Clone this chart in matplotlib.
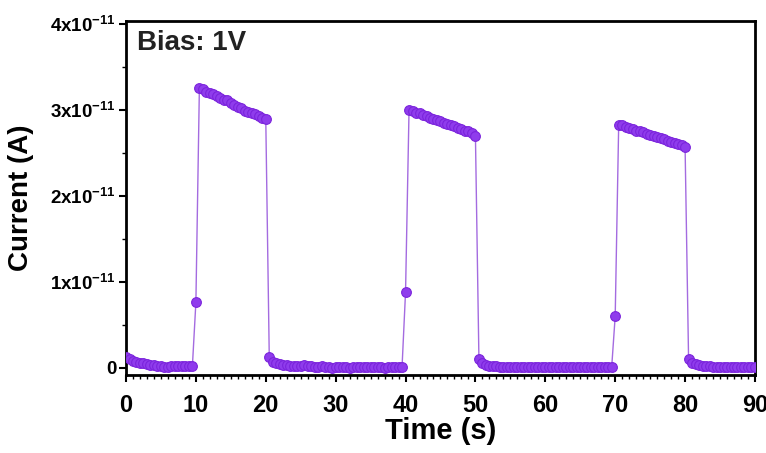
import numpy as np
import matplotlib
matplotlib.use("Agg")
import matplotlib.pyplot as plt
from matplotlib.ticker import MultipleLocator, FixedLocator

plt.rcParams['font.family'] = ['Liberation Sans', 'DejaVu Sans']
plt.rcParams['mathtext.fontset'] = 'custom'
plt.rcParams['mathtext.rm'] = 'Liberation Sans:bold'
plt.rcParams['mathtext.bf'] = 'Liberation Sans:bold'
plt.rcParams['mathtext.it'] = 'Liberation Sans:bold'

# ---- data (current in units of 1e-11 A), sampled every 0.5 s ----
time_step = 0.5
off0 = [0.12, 0.10, 0.08, 0.07, 0.06, 0.05, 0.04, 0.03, 0.03, 0.02,
        0.02, 0.01, 0.01, 0.02, 0.02, 0.02, 0.02, 0.02, 0.02, 0.02]
rise1 = [0.76]
on1 = [3.26, 3.24, 3.21, 3.20, 3.18, 3.16, 3.14, 3.12, 3.11, 3.08,
       3.06, 3.04, 3.02, 2.99, 2.98, 2.96, 2.95, 2.93, 2.91, 2.89]
off1 = [0.12, 0.07, 0.05, 0.04, 0.03, 0.03, 0.02, 0.02, 0.02, 0.02,
        0.03, 0.02, 0.02, 0.01, 0.01, 0.02, 0.01, 0.01, 0.00, 0.01,
        0.01, 0.01, 0.01, 0.00, 0.01, 0.01, 0.01, 0.01, 0.01, 0.01,
        0.01, 0.01, 0.01, 0.00, 0.01, 0.01, 0.01, 0.01, 0.01]
rise2 = [0.88]
on2 = [3.00, 2.99, 2.97, 2.96, 2.94, 2.93, 2.91, 2.90, 2.88, 2.87,
       2.85, 2.84, 2.82, 2.81, 2.79, 2.78, 2.76, 2.75, 2.73, 2.70]
off2 = [0.10, 0.05, 0.03, 0.02, 0.02, 0.02, 0.01, 0.01, 0.01, 0.01,
        0.01, 0.01, 0.01, 0.01, 0.01, 0.01, 0.01, 0.01, 0.01, 0.01,
        0.01, 0.01, 0.01, 0.01, 0.01, 0.01, 0.01, 0.01, 0.01, 0.01,
        0.01, 0.01, 0.01, 0.01, 0.01, 0.01, 0.01, 0.01, 0.01]
rise3 = [0.60]
on3 = [2.83, 2.82, 2.80, 2.79, 2.78, 2.76, 2.75, 2.74, 2.72, 2.71,
       2.70, 2.68, 2.67, 2.66, 2.64, 2.63, 2.62, 2.60, 2.59, 2.57]
off3 = [0.10, 0.06, 0.04, 0.03, 0.02, 0.02, 0.02, 0.01, 0.01, 0.01,
        0.01, 0.01, 0.01, 0.01, 0.01, 0.01, 0.01, 0.01, 0.01, 0.01]

current_e11 = np.array(off0 + rise1 + on1 + off1 + rise2 + on2 + off2 + rise3 + on3 + off3)
current = current_e11 * 1e-11
time = np.arange(len(current)) * time_step

x_ticks = [0, 10, 20, 30, 40, 50, 60, 70, 80, 90]
y_ticks = [0, 1e-11, 2e-11, 3e-11, 4e-11]
y_tick_labels = ['0', r'1x10$^{-11}$', r'2x10$^{-11}$', r'3x10$^{-11}$', r'4x10$^{-11}$']

fig = plt.figure(figsize=(7.66, 4.53), dpi=100)
ax = fig.add_axes([0.1645, 0.1722, 0.8211, 0.7814])

ax.plot(time, current, '-', color='#a46be0', lw=1.0, zorder=2)
ax.plot(time, current, 'o', ls='none', markersize=7, markerfacecolor='#8f3cec',
        markeredgecolor='#7b24dc', markeredgewidth=0.8, zorder=3)

ax.set_xlim(0, 90)
ax.set_ylim(-0.085e-11, 4.035e-11)
ax.xaxis.set_major_locator(FixedLocator(x_ticks))
ax.xaxis.set_minor_locator(MultipleLocator(1))
ax.yaxis.set_major_locator(FixedLocator(y_ticks))
ax.yaxis.set_minor_locator(MultipleLocator(0.5e-11))
ax.set_yticklabels(y_tick_labels)
ax.set_xticklabels([str(v) for v in x_ticks])

for lbl in ax.get_xticklabels():
    lbl.set_fontweight('bold'); lbl.set_fontsize(17)
for lbl in ax.get_yticklabels():
    lbl.set_fontweight('bold'); lbl.set_fontsize(13.5)

ax.tick_params(axis='x', which='major', direction='out', length=5, width=1.5, pad=9)
ax.tick_params(axis='y', which='major', direction='out', length=5, width=1.5, pad=2)
ax.tick_params(axis='both', which='minor', direction='out', length=3, width=1.0)
for s in ax.spines.values():
    s.set_linewidth(2.0)

ax.set_xlabel('Time (s)', fontsize=21, fontweight='bold')
ax.set_ylabel('Current (A)', fontsize=20, fontweight='bold')
ax.xaxis.set_label_coords(0.5, -0.12)
ax.yaxis.set_label_coords(-0.146, 0.5)
ax.text(0.018, 0.975, 'Bias: 1V', transform=ax.transAxes, fontsize=20,
        fontweight='bold', va='top', ha='left', color='#222222')

fig.savefig('out.png', dpi=100)
